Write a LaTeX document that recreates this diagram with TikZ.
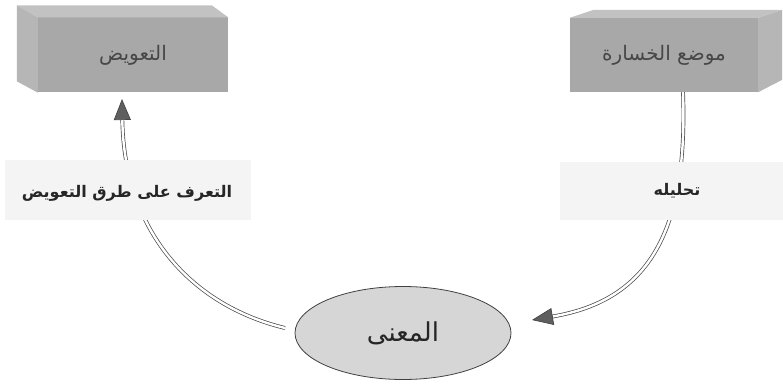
\documentclass[tikz,border=0pt]{standalone}
\usepackage{fontspec}
\newfontfamily\arabicfont[Script=Arabic]{DejaVu Sans}
\TeXXeTstate=1
\usetikzlibrary{arrows.meta,shapes.geometric,calc}
\definecolor{frontgray}{RGB}{168,168,168}
\definecolor{topgray}{RGB}{194,194,194}
\definecolor{sidegray}{RGB}{182,182,182}
\definecolor{bandgray}{RGB}{244,244,244}
\definecolor{ellgray}{RGB}{214,214,214}
\definecolor{linegray}{RGB}{70,70,70}
\definecolor{tipgray}{RGB}{95,95,95}
\tikzset{
  boxfront/.style={fill=frontgray, minimum width=190pt, minimum height=75pt, inner sep=0pt,
    font=\arabicfont\fontsize{20}{24}\selectfont, text=black!72},
  boxtop/.style={fill=topgray},
  boxside/.style={fill=sidegray},
  band/.style={fill=bandgray, inner sep=0pt},
  bandtext/.style={font=\arabicfont\bfseries\fontsize{16}{19}\selectfont, text=black!85, inner sep=1pt},
  meaning/.style={ellipse, draw=black!75, line width=0.8pt, fill=ellgray, minimum width=216pt,
    minimum height=93pt, inner sep=0pt, font=\arabicfont\fontsize{26}{30}\selectfont, text=black!85},
  conn/.style={draw=linegray, line width=0.7pt, double=white, double distance=2.4pt,
    -{Triangle[length=21pt,width=17pt,fill=tipgray]}},
}
\begin{document}
\begin{tikzpicture}[x=1pt,y=-1pt]
\useasboundingbox (0,0) rectangle (783,390);
% left box
\node[boxfront] (comp) at (133,55) {\beginR التعويض\endR};
\fill[boxtop] (comp.north west) -- ++(-21,-12) -- ++(195,0) -- (comp.north east) -- cycle;
\fill[boxside] (comp.north west) -- ++(-21,-12) -- ++(0,76) -- (comp.south west) -- cycle;
% right box
\node[boxfront, minimum width=188pt, minimum height=74pt] (loss) at (664,55) {\beginR موضع الخسارة\endR};
\fill[boxtop] (loss.north west) -- ++(24,-8) -- ++(188,0) -- (loss.north east) -- cycle;
\fill[boxside] (loss.north east) -- ++(24,-8) -- ++(0,70) -- (loss.south east) -- cycle;
% ellipse
\node[meaning] (ell) at (403,333) {\beginR المعنى\endR};
% connectors
\coordinate (rstart) at ($(loss.south)+(19,0)$);
\coordinate (rtip) at (532,320);
\coordinate (ltip) at (122,99);
\coordinate (lstart) at (285,328);
\draw[conn] (rstart) .. controls (688,230) and (650,300) .. (rtip);
\draw[conn] (lstart) .. controls (190,305) and (124,230) .. (ltip);
% bands (over the connectors) and their labels
\node[band, minimum width=246pt, minimum height=60pt] (lband) at (128,190) {};
\node[band, minimum width=223pt, minimum height=58pt] (rband) at (671.5,191) {};
\node[bandtext] (lbl) at (127,193) {\beginR التعرف على طرق التعويض\endR};
\node[bandtext] (rlbl) at (677,191) {\beginR تحليله\endR};
\end{tikzpicture}
\end{document}
